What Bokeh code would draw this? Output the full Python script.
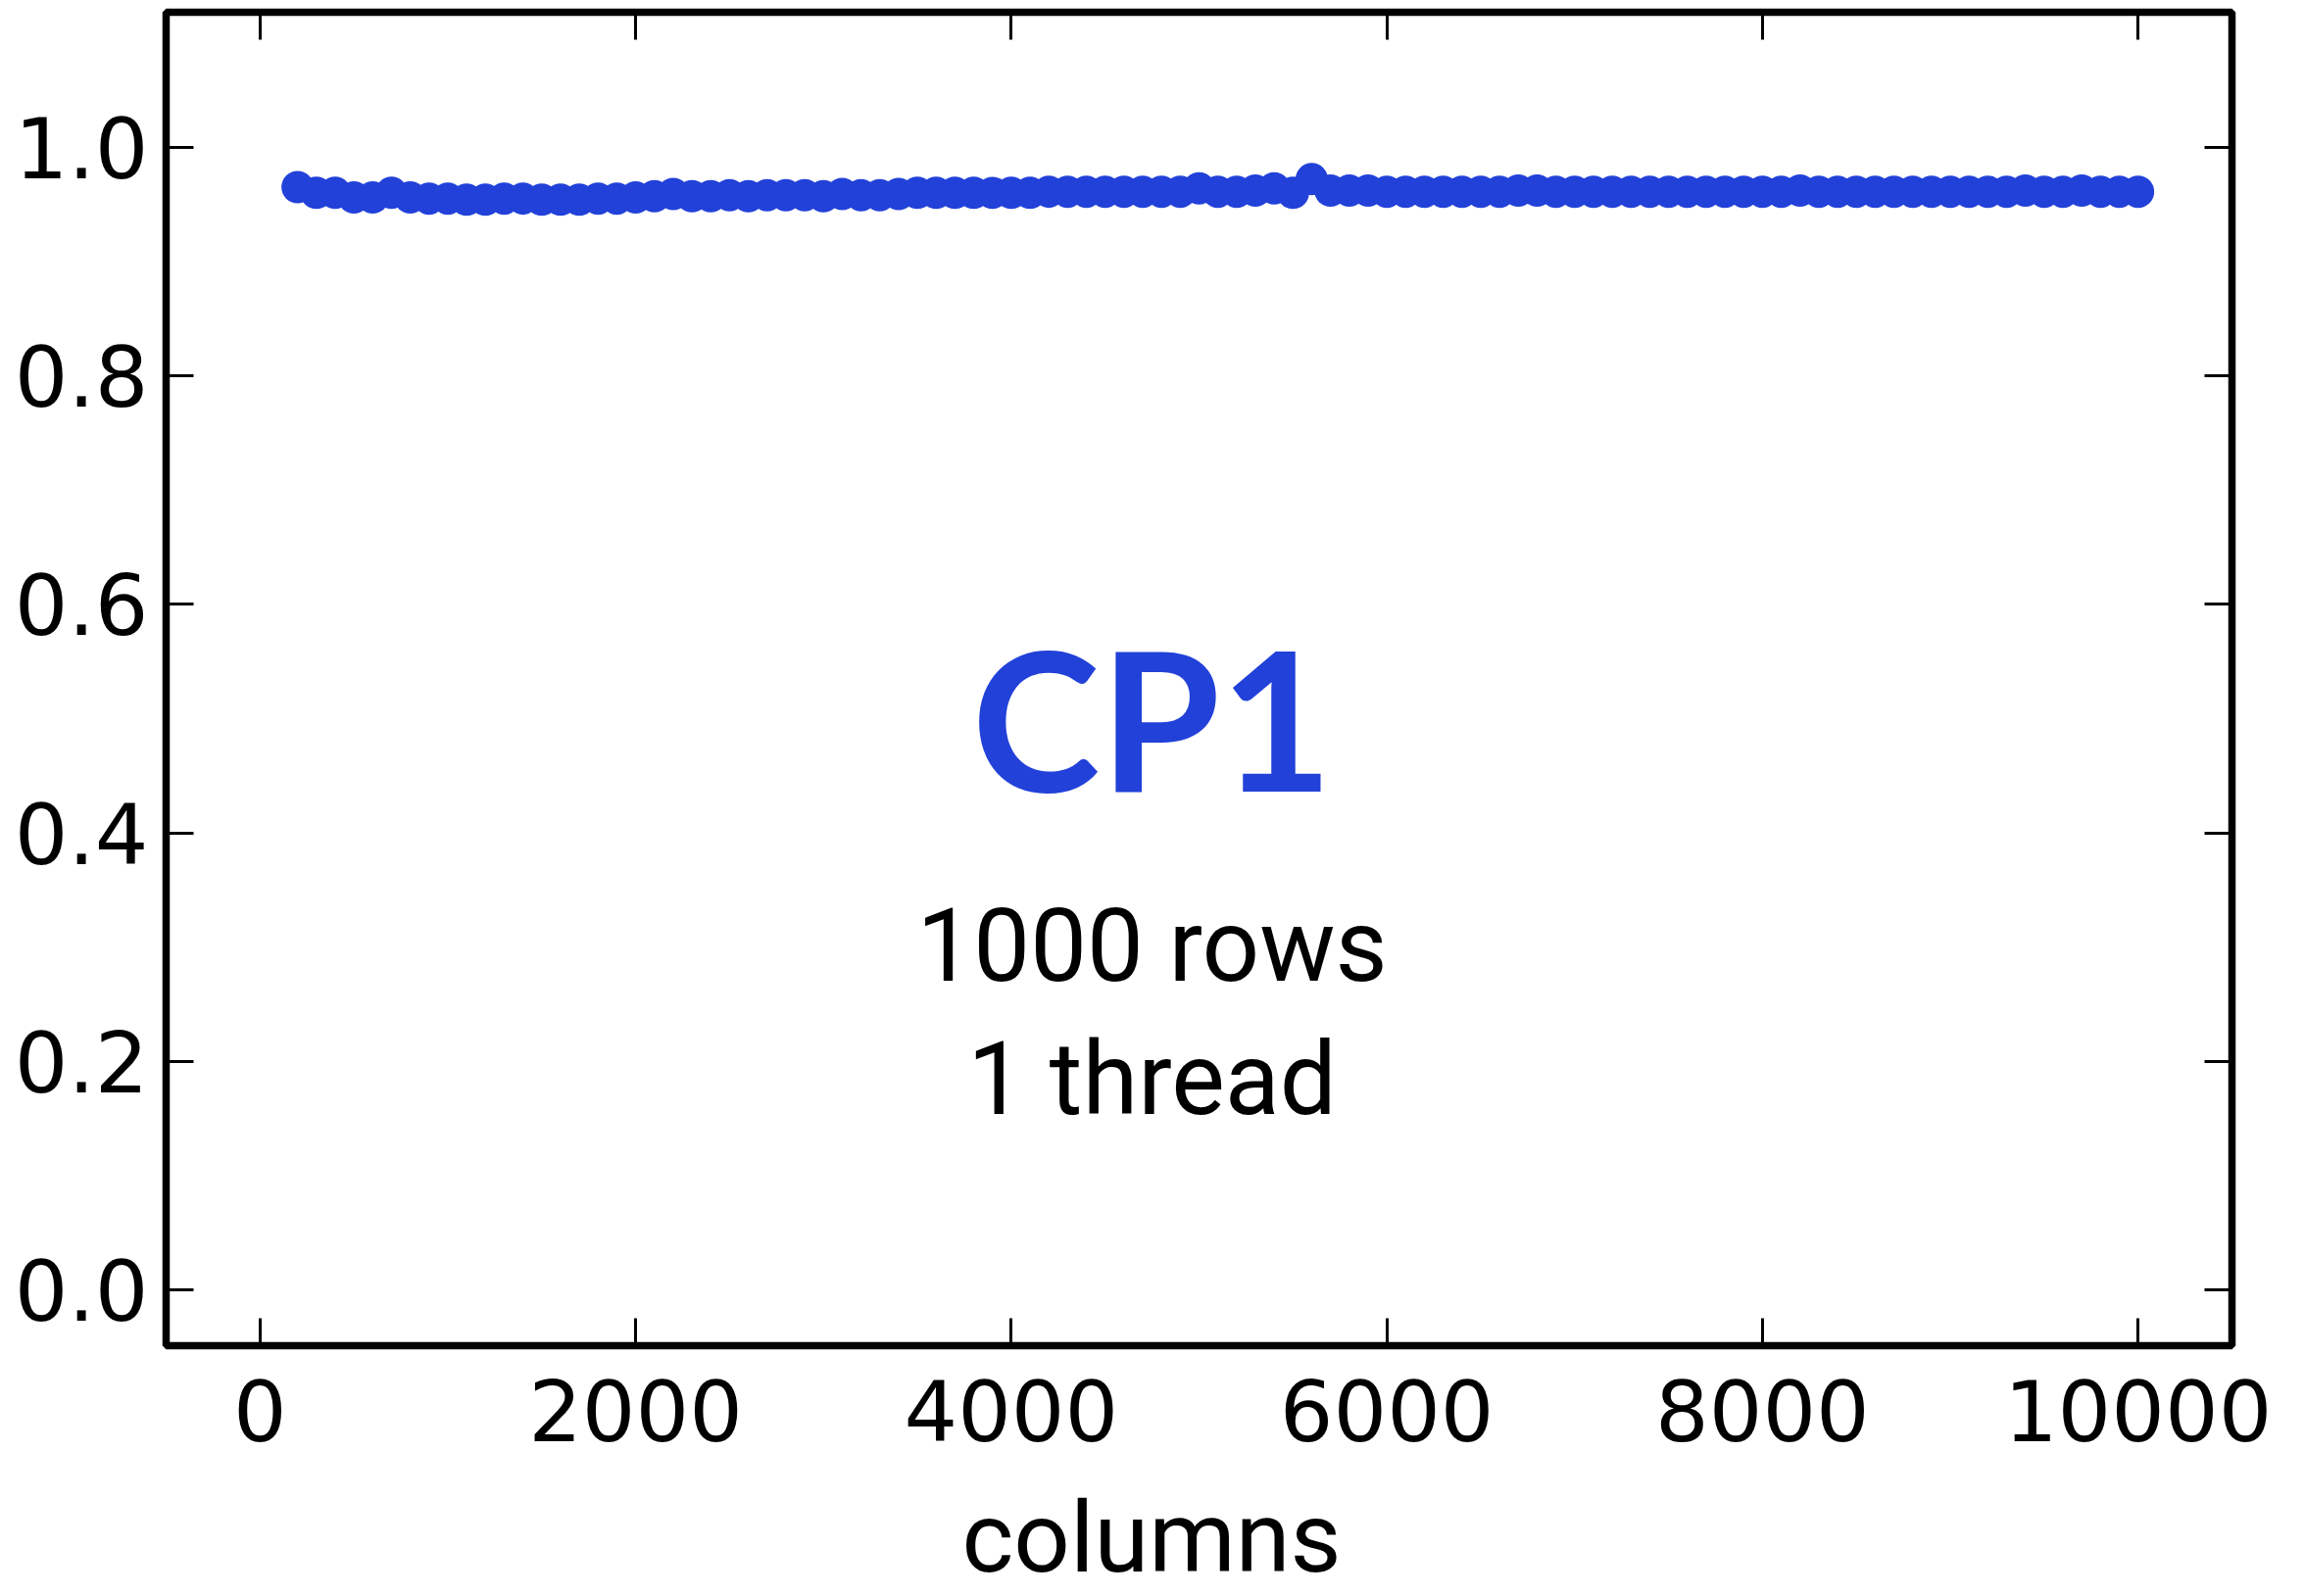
from bokeh.plotting import figure
from bokeh.models import Range1d, LinearAxis, FixedTicker, Label, ColumnDataSource, Title
from bokeh.embed import file_html
from bokeh.resources import INLINE

columns = list(range(200, 10001, 100))
ratio = [
    0.965, 0.960, 0.960, 0.956, 0.956, 0.960, 0.956, 0.955, 0.955, 0.954,
    0.954, 0.955, 0.955, 0.954, 0.954, 0.954, 0.955, 0.955, 0.956, 0.957,
    0.959, 0.957, 0.957, 0.958, 0.957, 0.958, 0.958, 0.958, 0.957, 0.959,
    0.958, 0.958, 0.959, 0.960, 0.960, 0.960, 0.960, 0.960, 0.960, 0.960,
    0.961, 0.961, 0.961, 0.961, 0.961, 0.961, 0.961, 0.961, 0.964, 0.961,
    0.961, 0.962, 0.964, 0.960, 0.972, 0.962, 0.962, 0.962, 0.961, 0.961,
    0.961, 0.961, 0.961, 0.961, 0.961, 0.962, 0.962, 0.961, 0.961, 0.961,
    0.961, 0.961, 0.961, 0.961, 0.961, 0.961, 0.961, 0.961, 0.961, 0.961,
    0.962, 0.961, 0.961, 0.961, 0.961, 0.961, 0.961, 0.961, 0.961, 0.961,
    0.961, 0.961, 0.962, 0.961, 0.961, 0.962, 0.961, 0.961, 0.961,
]
x_ticks = [0, 2000, 4000, 6000, 8000, 10000]
y_ticks = [0.0, 0.2, 0.4, 0.6, 0.8, 1.0]
y_tick_labels = {0.0: "0.0", 0.2: "0.2", 0.4: "0.4", 0.6: "0.6", 0.8: "0.8", 1.0: "1.0"}

BLUE = "#2241d9"
TICK_FONT = "DejaVu Sans"
TEXT_FONT = "Roboto"
BOLD_FONT = "Lato"

src = ColumnDataSource(dict(x=columns, y=ratio))

p = figure(frame_width=2108, frame_height=1361, output_backend="svg", toolbar_location=None,
           x_range=Range1d(-500, 10500), y_range=Range1d(-0.0485, 1.118),
           x_axis_location=None, y_axis_location=None)
p.min_border_left = 169
p.min_border_right = 74
p.min_border_top = 12
p.min_border_bottom = 2
p.xgrid.visible = False
p.ygrid.visible = False
p.outline_line_color = "black"
p.outline_line_width = 7.5
p.background_fill_color = "white"
p.border_fill_color = "white"

def make_axis(ticks, show_labels):
    ax = LinearAxis(ticker=FixedTicker(ticks=ticks))
    ax.axis_line_color = None
    ax.major_tick_in = 28
    ax.major_tick_out = 0
    ax.major_tick_line_width = 3
    ax.major_tick_line_color = "black"
    ax.minor_tick_line_color = None
    ax.major_label_text_font = TICK_FONT
    ax.major_label_text_color = "black"
    ax.major_label_text_font_size = "86px"
    if not show_labels:
        ax.major_label_overrides = {t: "" for t in ticks}
        ax.major_label_text_font_size = "10px"
        ax.major_label_standoff = 0
    return ax

xb = make_axis(x_ticks, True)
xb.major_label_standoff = 34
p.add_layout(xb, "below")
xt = make_axis(x_ticks, False)
p.add_layout(xt, "above")
yl = make_axis(y_ticks, True)
yl.major_label_standoff = 18
yl.major_label_overrides = y_tick_labels
p.add_layout(yl, "left")
yr = make_axis(y_ticks, False)
p.add_layout(yr, "right")

xlabel = Title(text="columns", align="left", offset=812, standoff=68,
               text_font=TEXT_FONT, text_font_style="normal", text_font_size="101px",
               text_color="black")
p.add_layout(xlabel, "below")

p.line("x", "y", source=src, line_color=BLUE, line_width=6)
p.scatter("x", "y", source=src, size=33, fill_color=BLUE, line_color=BLUE, line_width=0)

text_x = 4750
p.add_layout(Label(x=text_x, y=0.5016, text="CP1", text_align="center", text_baseline="alphabetic",
                   text_font=BOLD_FONT, text_font_style="bold", text_font_size="198px",
                   text_color=BLUE))
p.add_layout(Label(x=text_x, y=0.3016, text="1000 rows", text_align="center", text_baseline="alphabetic",
                   text_font=TEXT_FONT, text_font_style="normal", text_font_size="103px",
                   text_color="black"))
p.add_layout(Label(x=text_x, y=0.1847, text="1 thread", text_align="center", text_baseline="alphabetic",
                   text_font=TEXT_FONT, text_font_style="normal", text_font_size="103px",
                   text_color="black"))

open("out.html", "w").write(file_html(p, INLINE))
